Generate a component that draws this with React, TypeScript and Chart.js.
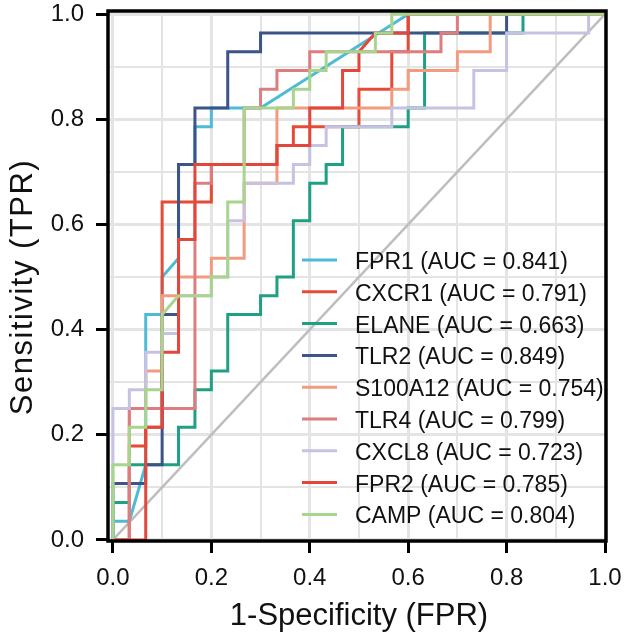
import React, { useEffect, useRef } from 'react';
import Chart from 'chart.js/auto';

// counts behind the ROC steps: 30 controls, 28 cases
const N_NEG = 30;
const N_POS = 28;

const genes = ['FPR1', 'CXCR1', 'ELANE', 'TLR2', 'S100A12', 'TLR4', 'CXCL8', 'FPR2', 'CAMP'];
const aucValues = [0.841, 0.791, 0.663, 0.849, 0.754, 0.799, 0.723, 0.785, 0.804];
const lineColors = ['#4DBBD5', '#E64B35', '#1FA084', '#3C5488', '#F39B7F', '#DD7D80', '#C6C3E2', '#E2473B', '#A8D58E'];

// [false positives, true positives] at each corner of the curve
const fpr1Steps = [[0, 0], [0, 1], [1, 1], [2, 4], [2, 12], [3, 12], [3, 14], [4, 15], [4, 20], [5, 20], [5, 22], [6, 22], [6, 23], [9, 23], [18, 28], [30, 28]];
const cxcr1Steps = [[0, 0], [1, 0], [1, 5], [2, 5], [2, 6], [3, 6], [3, 18], [6, 18], [6, 20], [10, 20], [10, 21], [11, 21], [11, 22], [15, 22], [15, 24], [17, 24], [17, 26], [18, 26], [18, 28], [30, 28]];
const elaneSteps = [[0, 0], [0, 2], [1, 2], [1, 4], [4, 4], [4, 6], [5, 6], [5, 8], [6, 8], [6, 9], [7, 9], [7, 12], [9, 12], [9, 13], [10, 13], [10, 14], [11, 14], [11, 17], [12, 17], [12, 19], [13, 19], [13, 20], [14, 20], [14, 22], [18, 22], [18, 23], [19, 23], [19, 27], [25, 27], [25, 28], [30, 28]];
const tlr2Steps = [[0, 0], [0, 3], [2, 3], [2, 4], [3, 4], [3, 12], [4, 12], [4, 20], [5, 20], [5, 23], [7, 23], [7, 26], [9, 26], [9, 27], [24, 27], [24, 28], [30, 28]];
const s100a12Steps = [[0, 0], [1, 0], [1, 7], [2, 7], [2, 9], [3, 9], [3, 13], [4, 13], [4, 14], [6, 14], [6, 15], [8, 15], [8, 19], [10, 19], [10, 23], [17, 23], [17, 24], [18, 24], [18, 25], [21, 25], [21, 26], [23, 26], [23, 28], [30, 28]];
const tlr4Steps = [[0, 0], [1, 0], [1, 7], [5, 7], [5, 19], [6, 19], [6, 20], [8, 20], [8, 23], [9, 23], [9, 24], [10, 24], [10, 25], [12, 25], [12, 26], [20, 26], [20, 27], [21, 27], [21, 28], [30, 28]];
const cxcl8Steps = [[0, 0], [0, 7], [1, 7], [1, 8], [2, 8], [2, 10], [3, 10], [3, 11], [4, 11], [4, 13], [6, 13], [6, 14], [7, 14], [7, 17], [8, 17], [8, 19], [11, 19], [11, 20], [12, 20], [12, 21], [13, 21], [13, 22], [17, 22], [17, 23], [22, 23], [22, 25], [24, 25], [24, 27], [29, 27], [29, 28], [30, 28]];
const fpr2Steps = [[0, 0], [2, 0], [2, 6], [3, 6], [3, 10], [4, 10], [4, 16], [5, 16], [5, 20], [10, 20], [10, 21], [12, 21], [12, 23], [14, 23], [14, 25], [15, 25], [15, 26], [16, 27], [18, 27], [18, 28], [30, 28]];
const campSteps = [[0, 0], [0, 4], [1, 4], [1, 6], [2, 6], [2, 8], [3, 8], [3, 12], [4, 13], [6, 13], [6, 14], [7, 14], [7, 18], [8, 18], [8, 23], [11, 23], [11, 24], [12, 24], [12, 25], [13, 25], [13, 26], [16, 26], [16, 27], [17, 27], [17, 28], [30, 28]];

const curves = [fpr1Steps, cxcr1Steps, elaneSteps, tlr2Steps, s100a12Steps, tlr4Steps, cxcl8Steps, fpr2Steps, campSteps];

const chanceLine = [[0, 0], [1, 1]];
const axisTicks = [0, 0.1, 0.2, 0.3, 0.4, 0.5, 0.6, 0.7, 0.8, 0.9, 1.0];

const X_TITLE = '1-Specificity (FPR)';
const Y_TITLE = 'Sensitivity (TPR)';

const FONT = '"Liberation Sans", Arial, Helvetica, sans-serif';

const isMajor = (v: number) => Math.round(v * 10) % 2 === 0;

// legend inside the panel, black frame, axis titles
const panelPlugin = {
  id: 'panelExtras',
  afterDatasetsDraw(chart: any) {
    const { ctx, chartArea } = chart;
    ctx.save();
    const rowH = 31.8;
    const lastY = chartArea.bottom - 26.6;
    const firstY = lastY - rowH * (genes.length - 1);
    ctx.font = `23px ${FONT}`;
    ctx.textBaseline = 'alphabetic';
    ctx.textAlign = 'left';
    genes.forEach((g, i) => {
      const y = firstY + i * rowH;
      ctx.strokeStyle = lineColors[i];
      ctx.lineWidth = 3;
      ctx.beginPath();
      ctx.moveTo(chartArea.left + 194, y);
      ctx.lineTo(chartArea.left + 229, y);
      ctx.stroke();
      ctx.fillStyle = '#111';
      ctx.fillText(`${g} (AUC = ${aucValues[i].toFixed(3)})`, chartArea.left + 247, y + 9);
    });
    ctx.strokeStyle = '#000';
    ctx.lineWidth = 3.5;
    ctx.strokeRect(chartArea.left, chartArea.top, chartArea.width, chartArea.height);
    ctx.restore();
  },
  afterDraw(chart: any) {
    const { ctx, chartArea } = chart;
    ctx.save();
    ctx.fillStyle = '#111';
    ctx.textAlign = 'center';
    ctx.textBaseline = 'alphabetic';
    ctx.font = `31px ${FONT}`;
    ctx.fillText(X_TITLE, (chartArea.left + chartArea.right) / 2 + 2, 625);
    ctx.translate(32, 287);
    ctx.rotate(-Math.PI / 2);
    if ('letterSpacing' in ctx) (ctx as any).letterSpacing = '1.5px';
    ctx.fillText(Y_TITLE, 0, 0);
    ctx.restore();
  },
};

const gridOpts = {
  color: '#E4E4E4',
  lineWidth: (c: any) => (c.tick && isMajor(c.tick.value) ? 3 : 2),
  tickColor: (c: any) => (c.tick && isMajor(c.tick.value) ? '#000' : 'rgba(0,0,0,0)'),
  tickWidth: 3,
  tickLength: 12,
  drawTicks: true,
};

const App: React.FC = () => {
  const chartRef = useRef<HTMLCanvasElement>(null);
  const chartInstance = useRef<Chart>();

  useEffect(() => {
    if (!chartRef.current) return;
    const ctx = chartRef.current.getContext('2d');
    if (!ctx) return;
    if (chartInstance.current) chartInstance.current.destroy();

    const datasets: any[] = curves.map((steps, i) => ({
      label: genes[i],
      data: steps.map(([fp, tp]) => ({ x: fp / N_NEG, y: tp / N_POS })),
      borderColor: lineColors[i],
      borderWidth: 3,
      showLine: true,
      pointRadius: 0,
      tension: 0,
      order: curves.length - i,
    }));
    datasets.push({
      label: 'chance',
      data: chanceLine.map(([x, y]) => ({ x, y })),
      borderColor: '#BEBEBE',
      borderWidth: 2.5,
      showLine: true,
      pointRadius: 0,
      order: 20,
    });

    const tickLabel = (v: any) => (isMajor(Number(v)) ? Number(v).toFixed(1) : '');

    chartInstance.current = new Chart(ctx, {
      type: 'scatter',
      data: { datasets },
      plugins: [panelPlugin],
      options: {
        animation: false,
        responsive: false,
        devicePixelRatio: 1,
        layout: { padding: { left: 0, right: 24, top: 11, bottom: 0 } },
        plugins: { legend: { display: false }, tooltip: { enabled: false } },
        scales: {
          x: {
            type: 'linear',
            min: -0.01,
            max: 1.002,
            afterBuildTicks: (s: any) => { s.ticks = axisTicks.map((v) => ({ value: v })); },
            afterFit: (s: any) => { s.height = 95; s.paddingLeft = 0; s.paddingRight = 0; },
            border: { display: false },
            grid: gridOpts,
            ticks: {
              autoSkip: false,
              maxRotation: 0,
              padding: 11,
              color: '#111',
              font: { family: FONT, size: 24 },
              callback: tickLabel,
            },
          },
          y: {
            type: 'linear',
            min: -0.002,
            max: 1.006,
            afterBuildTicks: (s: any) => { s.ticks = axisTicks.map((v) => ({ value: v })); },
            afterFit: (s: any) => { s.width = 108; s.paddingTop = 0; s.paddingBottom = 0; },
            border: { display: false },
            grid: gridOpts,
            ticks: {
              autoSkip: false,
              padding: 12,
              color: '#111',
              font: { family: FONT, size: 24 },
              callback: tickLabel,
            },
          },
        },
      },
    });

    return () => {
      if (chartInstance.current) {
        chartInstance.current.destroy();
        chartInstance.current = undefined;
      }
    };
  }, []);

  return (
    <div style={{ position: 'fixed', left: 0, top: 0, width: 630, height: 636, background: '#fff' }}>
      <canvas ref={chartRef} width={630} height={636} />
    </div>
  );
};

export default App;
